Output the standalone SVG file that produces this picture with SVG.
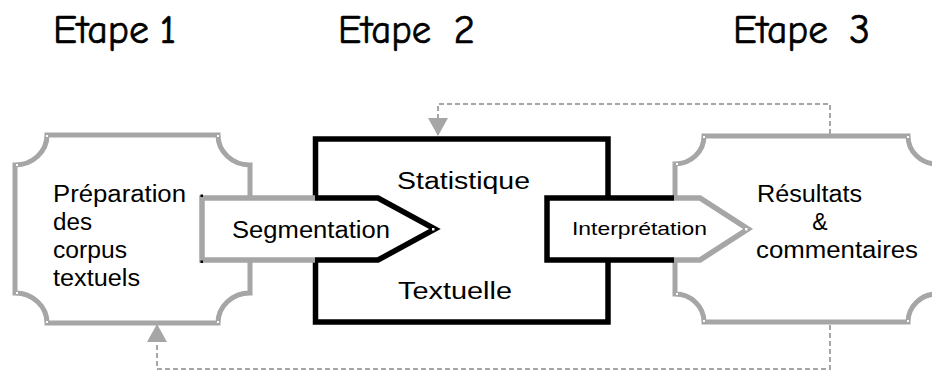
<svg xmlns="http://www.w3.org/2000/svg" width="932" height="372" viewBox="0 0 932 372">
  <style>
    .head { font-family: "Comic Sans MS", "Comic Neue", "DejaVu Sans", sans-serif; font-size: 41px; fill: #000; stroke: #000; stroke-width: 0.7; }
    .lbl { font-family: "Liberation Sans", Arial, sans-serif; font-size: 23px; fill: #000; }
    .plaque { fill: #fff; stroke: #a6a6a6; stroke-width: 5; stroke-linejoin: miter; }
    .box { fill: #fff; stroke: #000; stroke-width: 5.5; stroke-linejoin: miter; }
    .gray { fill: none; stroke: #a6a6a6; stroke-width: 5.5; stroke-linejoin: miter; }
    .black { fill: none; stroke: #000; stroke-width: 5.5; stroke-linejoin: miter; }
    .blank { fill: #fff; stroke: none; }
    .dash { fill: none; stroke: #a6a6a6; stroke-width: 2; stroke-dasharray: 5 3; }
    .handle { fill: #fff; }
  </style>
  <defs>
    <marker id="head" markerUnits="userSpaceOnUse" markerWidth="22" markerHeight="22" refX="18" refY="10" orient="auto">
      <path d="M0,0 L18,10 L0,20 Z" fill="#a6a6a6"/>
    </marker>
  </defs>

  <!-- step titles -->
  <g id="titles">
    <text class="head" x="53" y="43" textLength="96" lengthAdjust="spacingAndGlyphs">Etape</text>
    <text class="head" x="176" y="43" text-anchor="end">1</text>
    <text class="head" x="338" y="43" textLength="93" lengthAdjust="spacingAndGlyphs">Etape</text>
    <text class="head" x="475" y="43" text-anchor="end">2</text>
    <text class="head" x="733" y="43" textLength="95" lengthAdjust="spacingAndGlyphs">Etape</text>
    <text class="head" x="870" y="43" text-anchor="end">3</text>
  </g>

  <!-- feedback loops -->
  <g id="connectors">
    <path class="dash" d="M830,134 V104 H438 V136" marker-end="url(#head)"/>
    <path class="dash" d="M830,325 V369 H157 V324" marker-end="url(#head)"/>
  </g>

  <!-- step 1: corpus preparation -->
  <g id="preparation">
    <path class="plaque" d="M47,135 H218 A32,30 0 0 0 250,165 V293 A32,30 0 0 0 218,323 H47 A32,30 0 0 0 15,293 V165 A32,30 0 0 0 47,135 Z"/>
    <rect class="handle" x="46" y="135" width="2" height="2"/>
    <rect class="handle" x="16" y="164" width="2" height="2"/>
    <rect class="handle" x="217" y="135" width="2" height="2"/>
    <rect class="handle" x="46" y="321" width="2" height="2"/>
    <rect class="handle" x="16" y="292" width="2" height="2"/>
    <rect class="handle" x="217" y="321" width="2" height="2"/>
    <text class="lbl" x="53" y="202" textLength="133" lengthAdjust="spacingAndGlyphs">Préparation</text>
    <text class="lbl" x="53" y="230" textLength="39" lengthAdjust="spacingAndGlyphs">des</text>
    <text class="lbl" x="53" y="258" textLength="74" lengthAdjust="spacingAndGlyphs">corpus</text>
    <text class="lbl" x="53" y="286" textLength="87" lengthAdjust="spacingAndGlyphs">textuels</text>
  </g>

  <!-- step 2: textual statistics -->
  <g id="statistique">
    <rect class="box" x="315.5" y="139" width="292.5" height="183"/>
    <text class="lbl" x="397" y="189" textLength="133" lengthAdjust="spacingAndGlyphs">Statistique</text>
    <text class="lbl" x="398" y="299" textLength="114" lengthAdjust="spacingAndGlyphs">Textuelle</text>
  </g>

  <!-- step 3: results -->
  <g id="resultats">
    <path class="plaque" d="M704,136 H908 A29,28 0 0 0 937,164 V294 A29,28 0 0 0 908,322 H704 A29,28 0 0 0 675,294 V164 A29,28 0 0 0 704,136 Z"/>
    <rect class="handle" x="703" y="136" width="2" height="2"/>
    <rect class="handle" x="676" y="163" width="2" height="2"/>
    <rect class="handle" x="907" y="136" width="2" height="2"/>
    <rect class="handle" x="703" y="320" width="2" height="2"/>
    <rect class="handle" x="676" y="293" width="2" height="2"/>
    <rect class="handle" x="907" y="320" width="2" height="2"/>
    <text class="lbl" x="757" y="202" textLength="105" lengthAdjust="spacingAndGlyphs">Résultats</text>
    <text class="lbl" x="820" y="230" text-anchor="middle">&amp;</text>
    <text class="lbl" x="756" y="258" textLength="162" lengthAdjust="spacingAndGlyphs">commentaires</text>
  </g>

  <!-- segmentation arrow (step 1 to 2) -->
  <g id="segmentation">
    <polygon class="blank" points="202,198 378,198 435,229 378,260 202,260"/>
    <polyline class="gray" points="315,198 202,198 202,260 315,260"/>
    <polyline class="black" points="315,198 378,198 435,229 378,260 315,260"/>
    <rect x="200.5" y="194.5" width="2.5" height="2.5" fill="#000"/>
    <rect x="200.5" y="260.5" width="2.5" height="2.5" fill="#000"/>
    <rect class="handle" x="432" y="228" width="2.5" height="2.5"/>
    <text class="lbl" x="232" y="238" textLength="158" lengthAdjust="spacingAndGlyphs">Segmentation</text>
  </g>

  <!-- interpretation arrow (step 2 to 3) -->
  <g id="interpretation">
    <polygon class="blank" points="547,198 700,198 748,229 700,260 547,260"/>
    <polyline class="black" points="674,198 547,198 547,260 674,260"/>
    <polyline class="gray" points="674,198 700,198 748,229 700,260 674,260"/>
    <rect class="handle" x="745" y="228" width="2.5" height="2.5"/>
    <text class="lbl" x="572" y="235" style="font-size:19px" textLength="135" lengthAdjust="spacingAndGlyphs">Interprétation</text>
  </g>
</svg>
